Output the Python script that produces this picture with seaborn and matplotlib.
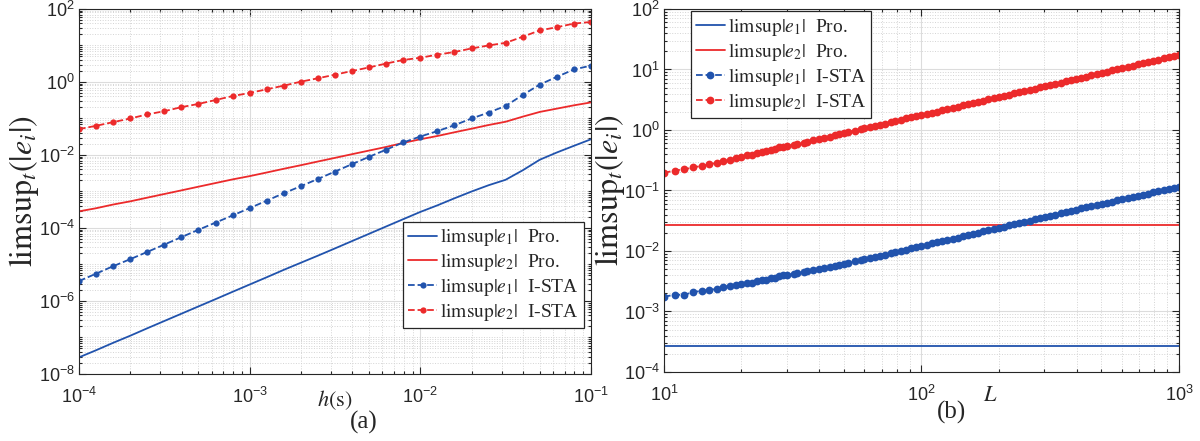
import numpy as np
import matplotlib
matplotlib.use("Agg")
import matplotlib.pyplot as plt
import matplotlib.ticker as mticker
import seaborn as sns

# ----------------------------------------
# Data
# ----------------------------------------
# (a) error bound against step size h
h = [1.00e-4, 1.26e-4, 1.58e-4, 2.00e-4, 2.51e-4, 3.16e-4, 3.98e-4, 5.01e-4,
     6.31e-4, 7.94e-4, 1.00e-3, 1.26e-3, 1.58e-3, 2.00e-3, 2.51e-3, 3.16e-3,
     3.98e-3, 5.01e-3, 6.31e-3, 7.94e-3, 1.00e-2, 1.26e-2, 1.58e-2, 2.00e-2,
     2.51e-2, 3.16e-2, 3.98e-2, 5.01e-2, 6.31e-2, 7.94e-2, 1.00e-1]

e1_pro_h = [2.85e-8, 4.47e-8, 7.08e-8, 1.12e-7, 1.78e-7, 2.82e-7, 4.47e-7, 7.08e-7,
            1.12e-6, 1.78e-6, 2.82e-6, 4.47e-6, 7.08e-6, 1.12e-5, 1.74e-5, 2.75e-5,
            4.37e-5, 6.92e-5, 1.10e-4, 1.74e-4, 2.75e-4, 4.17e-4, 6.46e-4, 1.00e-3,
            1.48e-3, 2.09e-3, 3.80e-3, 7.41e-3, 1.17e-2, 1.78e-2, 2.69e-2]

e2_pro_h = [2.85e-4, 3.47e-4, 4.37e-4, 5.37e-4, 6.76e-4, 8.51e-4, 1.07e-3, 1.35e-3,
            1.70e-3, 2.14e-3, 2.63e-3, 3.31e-3, 4.17e-3, 5.25e-3, 6.61e-3, 8.32e-3,
            1.05e-2, 1.32e-2, 1.66e-2, 2.14e-2, 2.69e-2, 3.31e-2, 4.17e-2, 5.25e-2,
            6.61e-2, 8.13e-2, 0.112, 0.151, 0.186, 0.229, 0.275]

e1_ista_h = [3.5e-6, 5.6e-6, 8.9e-6, 1.4e-5, 2.2e-5, 3.5e-5, 5.6e-5, 8.9e-5,
             1.4e-4, 2.2e-4, 3.5e-4, 5.6e-4, 8.9e-4, 1.4e-3, 2.2e-3, 3.5e-3,
             5.6e-3, 8.9e-3, 1.4e-2, 2.2e-2, 3.2e-2, 4.5e-2, 6.5e-2, 0.10,
             0.145, 0.22, 0.44, 0.85, 1.38, 2.2, 2.8]

e2_ista_h = [0.051, 0.063, 0.079, 0.10, 0.129, 0.158, 0.204, 0.25,
             0.32, 0.41, 0.50, 0.63, 0.79, 1.02, 1.26, 1.58,
             2.0, 2.5, 3.2, 4.0, 4.6, 5.6, 6.6, 8.3,
             10.0, 11.8, 17.3, 25.9, 31.6, 39.8, 44.0]

# (b) error bound against L
L_pro = [10, 1000]
e1_pro_L = [2.7e-4, 2.7e-4]
e2_pro_L = [2.65e-2, 2.65e-2]

L = [10, 11, 12, 13, 14, 15, 16, 17, 18, 19, 20, 21, 22, 23, 24, 25, 26, 27, 28, 29, 30,
     32, 33, 35, 36, 38, 40, 42, 44, 46, 48, 50, 52, 55, 58, 60, 63, 66, 69, 72, 76,
     79, 83, 87, 91, 95, 100, 105, 110, 115, 120, 126, 132, 138, 145, 151, 158, 166,
     174, 182, 191, 200, 209, 219, 229, 240, 251, 263, 275, 288, 302, 316, 331, 347,
     363, 380, 398, 417, 437, 457, 479, 501, 525, 550, 575, 603, 631, 661, 692, 724,
     759, 794, 832, 871, 912, 955, 1000]

e1_ista_L = [1.75e-3, 1.89e-3, 1.89e-3, 2.09e-3, 2.20e-3, 2.25e-3, 2.37e-3, 2.56e-3,
             2.66e-3, 2.77e-3, 2.80e-3, 2.98e-3, 2.98e-3, 3.18e-3, 3.26e-3, 3.34e-3,
             3.52e-3, 3.61e-3, 3.80e-3, 3.94e-3, 3.99e-3,
             4.2e-3, 4.3e-3, 4.5e-3, 4.65e-3, 4.9e-3, 5.1e-3, 5.3e-3, 5.5e-3, 5.75e-3,
             5.95e-3, 6.2e-3, 6.4e-3, 6.75e-3, 7.1e-3, 7.3e-3, 7.65e-3, 8.0e-3, 8.35e-3,
             8.7e-3, 9.2e-3, 9.55e-3, 1.0e-2, 1.05e-2, 1.10e-2, 1.15e-2, 1.21e-2,
             1.27e-2, 1.33e-2, 1.39e-2, 1.45e-2, 1.52e-2, 1.60e-2, 1.67e-2, 1.75e-2,
             1.83e-2, 1.91e-2, 2.01e-2, 2.11e-2, 2.20e-2, 2.31e-2, 2.42e-2, 2.53e-2,
             2.65e-2, 2.77e-2, 2.90e-2, 3.04e-2, 3.18e-2, 3.33e-2, 3.48e-2, 3.65e-2,
             3.82e-2, 4.0e-2, 4.2e-2, 4.39e-2, 4.6e-2, 4.82e-2, 5.05e-2, 5.29e-2,
             5.53e-2, 5.8e-2, 6.06e-2, 6.3e-2, 6.57e-2, 6.85e-2, 7.15e-2, 7.45e-2,
             7.8e-2, 8.15e-2, 8.5e-2, 8.9e-2, 9.3e-2, 9.7e-2, 0.1015, 0.106, 0.111, 0.116]

e2_ista_L = [0.195, 0.214, 0.224, 0.24, 0.256, 0.27, 0.286, 0.31, 0.32, 0.345, 0.363,
             0.383, 0.393, 0.41, 0.44, 0.457, 0.475, 0.49, 0.52, 0.53, 0.546,
             0.570, 0.587, 0.600, 0.63, 0.675, 0.71, 0.75, 0.78, 0.82, 0.855, 0.89,
             0.925, 0.98, 1.03, 1.07, 1.12, 1.175, 1.23, 1.28, 1.35, 1.405, 1.48, 1.55,
             1.62, 1.69, 1.78, 1.85, 1.94, 2.02, 2.11, 2.22, 2.32, 2.43, 2.55, 2.66,
             2.78, 2.92, 3.06, 3.20, 3.36, 3.52, 3.68, 3.85, 4.03, 4.22, 4.42, 4.63,
             4.84, 5.07, 5.29, 5.53, 5.79, 6.07, 6.35, 6.65, 6.97, 7.30, 7.65, 8.0,
             8.38, 8.77, 9.19, 9.63, 10.06, 10.55, 11.04, 11.57, 12.11, 12.67, 13.28,
             13.9, 14.56, 15.24, 15.96, 16.71, 17.5]

labels = [r"$\mathrm{limsup}|e_1|$  Pro.", r"$\mathrm{limsup}|e_2|$  Pro.",
          r"$\mathrm{limsup}|e_1|$  I-STA", r"$\mathrm{limsup}|e_2|$  I-STA"]

BLUE = "#2153ad"
RED = "#ec2a2b"
GREY = "#262626"

# ----------------------------------------
# Style
# ----------------------------------------
sns.set_theme(style="ticks")
plt.rcParams["font.family"] = ["Liberation Sans", "DejaVu Sans"]
plt.rcParams["mathtext.fontset"] = "stix"
plt.rcParams["axes.unicode_minus"] = False

fig = plt.figure(figsize=(12, 4.41), dpi=100)
ax1 = fig.add_axes([0.0658, 0.152, 0.4267, 0.8277])
ax2 = fig.add_axes([0.5533, 0.1565, 0.4292, 0.8231])

line_kw = dict(linewidth=1.3, legend=True)
dot_kw = dict(linewidth=1.3, linestyle="--", marker="o", markersize=4.5,
              markeredgewidth=0, legend=True)

# ---- (a)
sns.lineplot(x=h, y=e1_pro_h, ax=ax1, color=BLUE, label=labels[0], **line_kw)
sns.lineplot(x=h, y=e2_pro_h, ax=ax1, color=RED, label=labels[1], **line_kw)
sns.lineplot(x=h, y=e1_ista_h, ax=ax1, color=BLUE, label=labels[2], **dot_kw)
sns.lineplot(x=h, y=e2_ista_h, ax=ax1, color=RED, label=labels[3], **dot_kw)

# ---- (b)  dense markers merge into a band
dot_kw_b = dict(dot_kw, markersize=5.6)
sns.lineplot(x=L_pro, y=e1_pro_L, ax=ax2, color=BLUE, label=labels[0], **line_kw)
sns.lineplot(x=L_pro, y=e2_pro_L, ax=ax2, color=RED, label=labels[1], **line_kw)
sns.lineplot(x=L, y=e1_ista_L, ax=ax2, color=BLUE, label=labels[2], **dot_kw_b)
sns.lineplot(x=L, y=e2_ista_L, ax=ax2, color=RED, label=labels[3], **dot_kw_b)

for ax in (ax1, ax2):
    ax.set_xscale("log")
    ax.set_yscale("log")
    ax.xaxis.set_minor_locator(mticker.LogLocator(base=10, subs=np.arange(2, 10), numticks=20))
    ax.yaxis.set_minor_locator(mticker.LogLocator(base=10, subs=np.arange(1, 10), numticks=40))
    ax.xaxis.set_minor_formatter(mticker.NullFormatter())
    ax.yaxis.set_minor_formatter(mticker.NullFormatter())
    ax.grid(True, which="major", color="#dcdcdc", linewidth=0.8)
    ax.grid(True, which="minor", color="#d4d4d4", linestyle=":", linewidth=0.7)
    ax.set_axisbelow(True)
    ax.tick_params(which="both", direction="in", top=True, right=True,
                   colors=GREY, labelsize=13, width=0.8)
    ax.tick_params(which="major", length=5)
    ax.tick_params(which="minor", length=2.5)
    ax.tick_params(axis="x", which="major", pad=9)
    ax.tick_params(axis="y", which="major", pad=3)
    for sp in ax.spines.values():
        sp.set_color(GREY)
        sp.set_linewidth(0.8)
    ax.set_ylabel(r"$\mathrm{limsup}_t(|e_i|)$", fontsize=23, color=GREY)
    ax.yaxis.label.set_va("center")

ax1.set_xlim(1e-4, 1e-1)
ax1.set_ylim(1e-8, 1e2)
ax1.set_yticks([1e-8, 1e-6, 1e-4, 1e-2, 1e0, 1e2])
ax1.set_xticks([1e-4, 1e-3, 1e-2, 1e-1])
ax1.set_xlabel(r"$h(\mathrm{s})$", fontsize=16, color=GREY)
ax1.xaxis.set_label_coords(0.5, -0.071)
ax1.xaxis.label.set_va("center")
ax1.yaxis.set_label_coords(-0.107, 0.5)

ax2.set_xlim(10, 1000)
ax2.set_ylim(1e-4, 1e2)
ax2.set_yticks([1e-4, 1e-3, 1e-2, 1e-1, 1e0, 1e1, 1e2])
ax2.set_xticks([10, 100, 1000])
ax2.set_xlabel(r"$L$", fontsize=16, color=GREY)
ax2.xaxis.set_label_coords((990 - 664) / 515, -0.066)
ax2.xaxis.label.set_va("center")
ax2.yaxis.set_label_coords(-0.104, 0.5)

leg_kw = dict(prop={"family": "Liberation Serif", "size": 14}, frameon=True,
              fancybox=False, framealpha=1, edgecolor=GREY, borderaxespad=0,
              handlelength=1.5, handletextpad=0.15, labelspacing=0.15,
              borderpad=0.25)
leg1 = ax1.legend(loc="lower right", bbox_to_anchor=(0.986, 0.126), **leg_kw)
leg2 = ax2.legend(loc="upper left", bbox_to_anchor=(0.052, 0.994), **leg_kw)
for leg in (leg1, leg2):
    leg.get_frame().set_linewidth(0.9)

fig.text(364 / 1200, 1 - 422 / 441, "(a)", family="Liberation Serif",
         fontsize=18, ha="center", va="center")
fig.text(951 / 1200, 1 - 412 / 441, "(b)", family="Liberation Serif",
         fontsize=18, ha="center", va="center")

fig.savefig("out.png", dpi=100)
